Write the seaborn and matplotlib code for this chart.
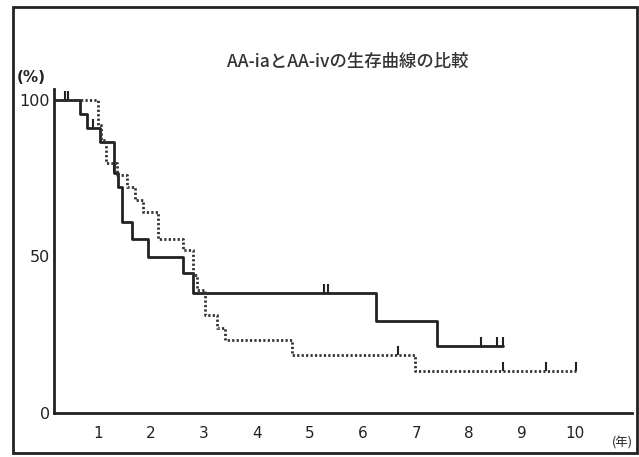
import numpy as np
import pandas as pd
import seaborn as sns
import matplotlib
matplotlib.use("Agg")
import matplotlib.pyplot as plt
from matplotlib.patches import Rectangle

# ---- data ----
title = "AA-iaとAA-ivの生存曲線の比較"
x_ticks = [1, 2, 3, 4, 5, 6, 7, 8, 9, 10]
y_major = [0, 50, 100]
y_minor = [10, 20, 30, 40, 60, 70, 80, 90]

ia_time = [0.0, 0.66, 0.79, 1.04, 1.30, 1.38, 1.45, 1.64, 1.95, 2.60, 2.79, 6.25, 7.40, 8.63]
ia_surv = [100, 95.5, 91.1, 86.6, 76.7, 72.2, 61.1, 55.5, 49.7, 44.7, 38.3, 29.5, 21.4, 21.4]
ia_censor = [0.38, 0.43, 0.91, 1.30, 5.26, 5.33, 8.22, 8.53, 8.63]

iv_time = [0.0, 1.00, 1.06, 1.15, 1.35, 1.55, 1.70, 1.85, 2.14, 2.60, 2.79, 2.86, 3.02, 3.24, 3.40, 4.65, 6.97, 10.02]
iv_surv = [100, 92.0, 87.2, 79.9, 76.0, 72.2, 68.0, 64.3, 55.5, 52.1, 44.1, 39.3, 31.3, 27.1, 23.3, 18.5, 13.5, 13.5]
iv_censor = [6.65, 8.63, 9.45, 10.02]

sns.set_style("white")
plt.rcParams["font.family"] = ["Noto Sans CJK JP", "DejaVu Sans"]

W, H = 639, 457
fig = plt.figure(figsize=(W / 100, H / 100), dpi=100)
ax = fig.add_axes([54 / W, 1 - 413 / H, (632 - 54) / W, (413 - 89) / H])

df_ia = pd.DataFrame({"time": ia_time, "surv": ia_surv})
df_iv = pd.DataFrame({"time": iv_time, "surv": iv_surv})

sns.lineplot(data=df_ia, x="time", y="surv", ax=ax, estimator=None,
             drawstyle="steps-post", color="#222222", lw=2.0)
sns.lineplot(data=df_iv, x="time", y="surv", ax=ax, estimator=None,
             drawstyle="steps-post", color="#333333", lw=2.0,
             linestyle=(0, (0.8, 0.8)))


def level_at(times, survs, t):
    idx = np.searchsorted(np.asarray(times), t, side="right") - 1
    return survs[max(idx, 0)]


for cens, tt, ss in [(ia_censor, ia_time, ia_surv), (iv_censor, iv_time, iv_surv)]:
    lv = np.array([level_at(tt, ss, c) for c in cens])
    ax.vlines(cens, lv, lv + 2.8, color="#222222", lw=1.5)

ax.set_xlim(0.17, 11.07)
ax.set_ylim(0, 103.5)
ax.set_xticks(x_ticks)
ax.set_xticklabels([str(v) for v in x_ticks], fontsize=11, family="DejaVu Sans")
ax.set_yticks(y_major)
ax.set_yticklabels([str(v) for v in y_major], fontsize=11.5, family="DejaVu Sans")
ax.set_yticks(y_minor, minor=True)
ax.tick_params(axis="both", which="both", direction="in", length=5, width=1.3,
               color="#222222", labelcolor="#222222")
ax.tick_params(axis="x", pad=9)
ax.tick_params(axis="y", pad=3)
ax.set_xlabel("")
ax.set_ylabel("")
for s in ["top", "right"]:
    ax.spines[s].set_visible(False)
for s in ["left", "bottom"]:
    ax.spines[s].set_linewidth(2.0)
    ax.spines[s].set_color("#222222")

fig.text(348 / W, 1 - 62 / H, title, ha="center", va="center", fontsize=12.5,
         fontweight="medium", color="#333333")
fig.text(31 / W, 1 - 77 / H, "(%)", ha="center", va="center", fontsize=11,
         fontweight="bold", color="#222222", family="DejaVu Sans")
fig.text(633 / W, 1 - 443 / H, "(年)", ha="right", va="center", fontsize=9, color="#222222")

fig.add_artist(Rectangle((13 / W, 1 - 453 / H), (637 - 13) / W, (453 - 7) / H,
                         transform=fig.transFigure, fill=False, lw=2.0, ec="#222222"))

fig.savefig("out.png", dpi=100)
